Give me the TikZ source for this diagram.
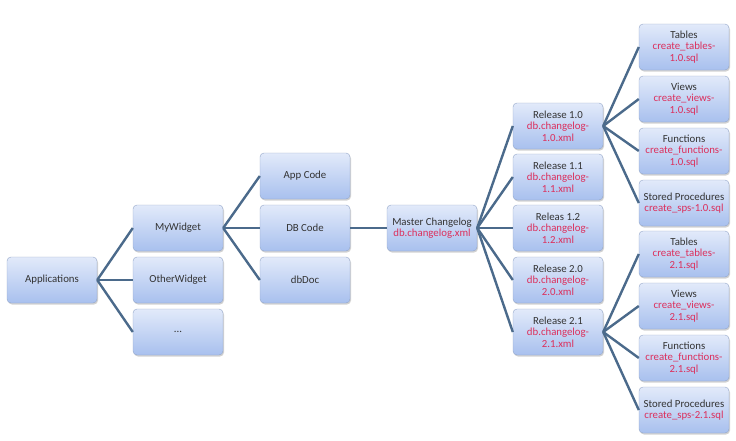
\documentclass[tikz,border=0pt]{standalone}
\usepackage{fontspec}
\setmainfont{Carlito}
\usetikzlibrary{shadows}
\definecolor{boxtop}{HTML}{E2EAFA}
\definecolor{boxbot}{HTML}{A8C0EE}
\definecolor{boxline}{HTML}{94A6C8}
\definecolor{linkcol}{HTML}{4B6A8B}
\definecolor{fname}{HTML}{DC2F5C}
\newcommand{\fn}[1]{\textcolor{fname}{#1}}
\begin{document}
\begin{tikzpicture}[
		x=1pt, y=-1pt,
		box/.style = {rectangle, draw=boxline, rounded corners=4pt,% styles of the boxes
			top color=boxtop, bottom color=boxbot,
			minimum width=90pt, minimum height=46pt, inner sep=1pt,
			align=center, text=black!80,
			font=\fontsize{10.8}{11.6}\selectfont,
			drop shadow={shadow xshift=1pt, shadow yshift=-1.5pt, fill=black!35}},
		conn/.style = {draw=linkcol, line width=2.4pt},
		]
		\useasboundingbox (0,0) rectangle (736,440);
		% left part
		\node[box] (apps) at (52,280) {Applications};
		\node[box] (mywidget) at (178,228) {MyWidget};
		\node[box] (otherwidget) at (178,280) {OtherWidget};
		\node[box] (more) at (178,332) {...};
		\node[box] (appcode) at (305,176) {App Code};
		\node[box] (dbcode) at (305,228) {DB Code};
		\node[box] (dbdoc) at (305,280) {dbDoc};
		\node[box] (master) at (432,228) {Master Changelog\\\fn{db.changelog.xml}};
		\foreach \c in {mywidget,otherwidget,more}
		\draw[conn] (apps.east) -- (\c.west);
		\foreach \c in {appcode,dbcode,dbdoc}
		\draw[conn] (mywidget.east) -- (\c.west);
		\draw[conn] (dbcode.east) -- (master.west);
		% releases
		\foreach \r/\t/\v/\y in {10/Release 1.0/1.0/126, 11/Release 1.1/1.1/177,
			12/Releas 1.2/1.2/228, 20/Release 2.0/2.0/280, 21/Release 2.1/2.1/332}{
			\node[box] (rel\r) at (558,\y) {\t\\\fn{db.changelog-}\\\fn{\v.xml}};
			\draw[conn] (master.east) -- (rel\r.west);
		}
		% sql files
		\foreach \r/\v/\y in {10/1.0/47, 21/2.1/254}{
			\node[box] (tab\r) at (684,\y) {Tables\\\fn{create\_tables-}\\\fn{\v.sql}};
			\node[box] (view\r) at (684,\y+52) {Views\\\fn{create\_views-}\\\fn{\v.sql}};
			\node[box] (func\r) at (684,\y+104) {Functions\\\fn{create\_functions-}\\\fn{\v.sql}};
			\node[box] (sp\r) at (684,\y+156) {Stored Procedures\\\fn{create\_sps-\v.sql}};
			\foreach \c in {tab,view,func,sp}
			\draw[conn] (rel\r.east) -- (\c\r.west);
		}
	\end{tikzpicture}
\end{document}
